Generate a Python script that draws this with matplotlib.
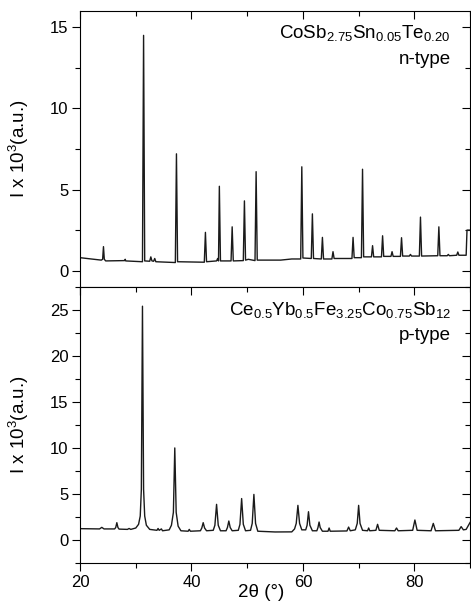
import matplotlib
matplotlib.use("Agg")
import matplotlib.pyplot as plt
from matplotlib.ticker import MultipleLocator

plt.rcParams['font.family'] = ['Liberation Sans', 'DejaVu Sans']
plt.rcParams['mathtext.fontset'] = 'custom'
plt.rcParams['mathtext.rm'] = 'Liberation Sans'
plt.rcParams['mathtext.it'] = 'Liberation Sans:italic'
plt.rcParams['mathtext.default'] = 'regular'

# n-type pattern, digitized vertices (2theta, intensity x 10^3)
n_x = [20.0, 22.0, 23.8, 24.05, 24.2, 24.35, 24.6, 28.0, 28.1, 28.2, 31.2, 31.4, 31.6,
       32.5, 32.7, 32.9, 33.2, 33.4, 33.6, 37.1, 37.3, 37.5, 42.3, 42.5, 42.7,
       44.5, 44.7, 44.85, 45.0, 45.2, 47.1, 47.3, 47.5, 49.3, 49.5, 49.7, 50.2,
       51.4, 51.6, 51.8, 56.0, 58.0, 59.6, 59.8, 60.0, 61.5, 61.7, 61.9, 63.3, 63.5, 63.7,
       65.2, 65.4, 65.6, 68.8, 69.0, 69.2, 70.5, 70.7, 70.9, 72.3, 72.5, 72.7,
       74.1, 74.3, 74.5, 75.8, 76.0, 76.2, 77.5, 77.7, 77.9, 79.1, 79.3, 79.5,
       80.9, 81.1, 81.3, 84.2, 84.4, 84.6, 85.9, 86.1, 86.3, 87.6, 87.8, 88.0,
       89.3, 89.45, 90.0]
n_y = [0.80, 0.72, 0.65, 0.70, 1.48, 0.70, 0.60, 0.62, 0.70, 0.60, 0.55, 14.5, 0.60,
       0.58, 0.85, 0.60, 0.58, 0.75, 0.55, 0.50, 7.2, 0.55, 0.52, 2.36, 0.55,
       0.60, 0.75, 0.60, 5.2, 0.60, 0.60, 2.7, 0.60, 0.62, 4.3, 0.65, 0.70,
       0.62, 6.1, 0.65, 0.65, 0.72, 0.72, 6.4, 0.78, 0.75, 3.5, 0.75, 0.72, 2.05, 0.72,
       0.72, 1.17, 0.75, 0.75, 2.05, 0.80, 0.80, 6.25, 0.85, 0.85, 1.54, 0.85,
       0.85, 2.15, 0.88, 0.88, 1.17, 0.88, 0.88, 2.03, 0.90, 0.90, 1.00, 0.90,
       0.90, 3.3, 0.90, 0.92, 2.7, 0.92, 0.92, 1.00, 0.92, 0.95, 1.15, 0.95,
       0.95, 2.5, 2.5]

# p-type pattern, digitized vertices
p_x = [20.0, 23.5, 23.9, 24.3, 26.2, 26.4, 26.6, 26.8, 27.0, 28.5, 28.8, 29.1,
       30.0, 30.5, 30.8, 31.0, 31.2, 31.4, 31.6, 31.9, 32.5, 33.8, 34.0, 34.2, 34.6, 34.8,
       36.0, 36.4, 36.75, 37.0, 37.25, 37.6, 38.1, 39.4, 39.6, 39.8,
       41.6, 41.85, 42.1, 42.35, 42.7, 43.9, 44.2, 44.5, 44.8, 45.2,
       46.2, 46.45, 46.7, 46.95, 47.3, 48.4, 48.7, 49.0, 49.3, 49.7,
       50.6, 50.9, 51.2, 51.5, 51.9, 55.0, 58.0, 58.5, 58.8, 59.1, 59.4, 59.8,
       60.5, 60.75, 61.0, 61.25, 61.7, 62.5, 62.7, 62.9, 63.1, 63.5, 64.5, 64.7, 64.9,
       67.9, 68.2, 68.5, 69.4, 69.75, 70.0, 70.25, 70.7, 71.6, 71.8, 72.0,
       73.1, 73.4, 73.7, 76.5, 76.8, 77.1, 79.7, 80.1, 80.5, 83.0, 83.4, 83.8,
       88.0, 88.4, 88.8, 89.3, 90.0]
p_y = [1.23, 1.20, 1.37, 1.20, 1.20, 1.35, 1.88, 1.35, 1.18, 1.15, 1.25, 1.15,
       1.30, 1.70, 2.60, 5.5, 25.4, 5.5, 2.60, 1.60, 1.15, 1.05, 1.25, 1.05, 1.20, 1.00,
       1.10, 1.60, 3.0, 10.0, 3.0, 1.50, 1.00, 0.95, 1.15, 0.95,
       1.00, 1.30, 1.88, 1.30, 1.00, 1.05, 1.60, 3.87, 1.60, 1.00,
       1.00, 1.35, 2.06, 1.35, 1.00, 1.05, 1.70, 4.5, 1.70, 1.00,
       1.05, 1.80, 4.95, 1.80, 0.95, 0.87, 0.88, 1.20, 1.80, 3.76, 1.80, 1.10,
       1.10, 1.60, 3.07, 1.60, 1.00, 1.00, 1.35, 1.95, 1.35, 0.95, 0.95, 1.30, 0.95,
       0.98, 1.40, 1.00, 1.10, 1.80, 3.76, 1.80, 1.05, 1.00, 1.30, 1.00,
       1.05, 1.70, 1.05, 1.00, 1.30, 1.00, 1.05, 2.17, 1.05, 1.00, 1.80, 1.00,
       1.05, 1.45, 1.10, 1.15, 1.90]

n_label = "CoSb$_{2.75}$Sn$_{0.05}$Te$_{0.20}$"
p_label = "Ce$_{0.5}$Yb$_{0.5}$Fe$_{3.25}$Co$_{0.75}$Sb$_{12}$"

fig = plt.figure(figsize=(4.71, 6.13), dpi=100)
ax1 = fig.add_axes([0.170, 0.532, 0.828, 0.450])
ax2 = fig.add_axes([0.170, 0.0816, 0.828, 0.4504])

for ax in (ax1, ax2):
    ax.set_xlim(20, 90)
    ax.xaxis.set_major_locator(MultipleLocator(20))
    ax.xaxis.set_minor_locator(MultipleLocator(10))
    ax.tick_params(axis='x', which='both', top=True, labeltop=False)
    ax.tick_params(axis='y', which='both', right=True, labelright=False)
    ax.tick_params(which='major', length=6, width=0.8, labelsize=12, pad=2.5)
    ax.tick_params(which='minor', length=3.5, width=0.8)
    ax.tick_params(axis='y', which='both', direction='out')
    ax.tick_params(axis='x', which='both', direction='out')
    for s in ax.spines.values():
        s.set_linewidth(0.8)
    ax.set_ylabel("I x 10$^3$(a.u.)", fontsize=13.5)
    ax.yaxis.set_label_coords(-0.125, 0.5)

ax1.plot(n_x, n_y, color='#1a1a1a', lw=1.0)
ax1.set_ylim(-1, 16)
ax1.yaxis.set_major_locator(MultipleLocator(5))
ax1.yaxis.set_minor_locator(MultipleLocator(2.5))
ax1.tick_params(axis='x', labelbottom=False)
ax1.text(0.95, 0.92, n_label, transform=ax1.transAxes, ha='right', va='center', fontsize=13.5)
ax1.text(0.95, 0.825, "n-type", transform=ax1.transAxes, ha='right', va='center', fontsize=13.5)

ax2.plot(p_x, p_y, color='#1a1a1a', lw=1.0)
ax2.set_ylim(-2.5, 27.5)
ax2.yaxis.set_major_locator(MultipleLocator(5))
ax2.yaxis.set_minor_locator(MultipleLocator(2.5))
ax2.set_xlabel("2θ (°)", fontsize=13.5)
ax2.xaxis.set_label_coords(0.464, -0.075)
ax2.text(0.95, 0.915, p_label, transform=ax2.transAxes, ha='right', va='center', fontsize=13.5)
ax2.text(0.95, 0.825, "p-type", transform=ax2.transAxes, ha='right', va='center', fontsize=13.5)

# inward ticks on right and top, like the original
for ax in (ax1, ax2):
    for t in ax.yaxis.get_major_ticks() + ax.yaxis.get_minor_ticks():
        t.tick2line.set_marker(matplotlib.lines.TICKLEFT)
    for t in ax.xaxis.get_major_ticks() + ax.xaxis.get_minor_ticks():
        t.tick2line.set_marker(matplotlib.lines.TICKDOWN)

fig.savefig("out.png", dpi=100)
